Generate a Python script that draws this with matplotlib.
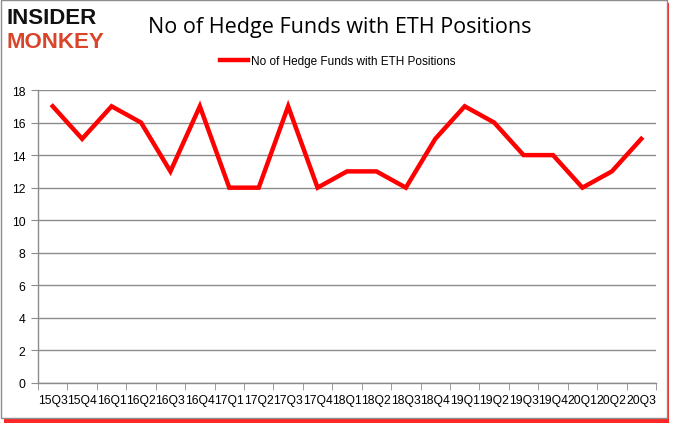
import matplotlib
matplotlib.use("Agg")
import matplotlib.pyplot as plt
from matplotlib.patches import Rectangle
import numpy as np

quarters = ["15Q3", "15Q4", "16Q1", "16Q2", "16Q3", "16Q4", "17Q1", "17Q2", "17Q3", "17Q4",
            "18Q1", "18Q2", "18Q3", "18Q4", "19Q1", "19Q2", "19Q3", "19Q4", "20Q1", "20Q2", "20Q3"]
funds = [17, 15, 17, 16, 13, 17, 12, 12, 17, 12, 13, 13, 12, 15, 17, 16, 14, 14, 12, 13, 15]
yticks = [0, 2, 4, 6, 8, 10, 12, 14, 16, 18]
title = "No of Hedge Funds with ETH Positions"

W, H = 677, 431
fig = plt.figure(figsize=(W / 100, H / 100), dpi=100)
fig.patch.set_facecolor("white")

# shadow + border
fig.patches.append(Rectangle((4 / W, 1 - 424 / H), 665 / W, 420 / H, transform=fig.transFigure,
                             facecolor="#ff0000", edgecolor="none", alpha=0.85, zorder=0))
fig.patches.append(Rectangle((1 / W, 1 - 419 / H), 666 / W, 418 / H, transform=fig.transFigure,
                             facecolor="white", edgecolor="#8c8c8c", linewidth=1, zorder=1))

ax = fig.add_axes([38 / W, 1 - 384 / H, (656 - 38) / W, (384 - 91) / H])
ax.set_zorder(2)
ax.patch.set_alpha(0)
x = np.arange(len(quarters))
ax.plot(x, funds, color="#ff0000", linewidth=3.2, solid_joinstyle="miter",
        label="No of Hedge Funds with ETH Positions", zorder=3)
ax.set_xlim(-0.5, len(quarters) - 0.5)
ax.set_ylim(0, 18)
ax.set_yticks(yticks)
ax.set_yticklabels([str(v) for v in yticks])
ax.yaxis.grid(True, color="#8c8c8c", linewidth=1)
ax.set_axisbelow(True)
ax.set_xticks(x)
ax.set_xticklabels(quarters)
ax.set_xticks(np.arange(-0.5, len(quarters), 1.0), minor=True)
ax.tick_params(axis="x", which="major", length=0, pad=8)
ax.tick_params(axis="x", which="minor", length=5, color="#8c8c8c", direction="out")
ax.tick_params(axis="y", length=5, color="#8c8c8c", direction="out", pad=4)
for lab in ax.get_xticklabels() + ax.get_yticklabels():
    lab.set_fontfamily("Liberation Sans")
    lab.set_fontsize(8.7)
    lab.set_color("#000000")
for s in ["top", "right"]:
    ax.spines[s].set_visible(False)
for s in ["left", "bottom"]:
    ax.spines[s].set_color("#8c8c8c")
    ax.spines[s].set_linewidth(1)

# title
fig.text(340 / W, 1 - 27 / H, title, ha="center", va="center", fontsize=15.5,
         fontfamily="Open Sans", color="#000000")

# legend
leg = fig.legend(loc="center", bbox_to_anchor=(338 / W, 1 - 62 / H), frameon=False,
                 prop={"family": "Liberation Sans", "size": 8.5}, handlelength=2.3, handletextpad=0.3)

# logo
fig.text(7 / W, 1 - 18 / H, "INSIDER", ha="left", va="center", fontsize=16, fontweight="bold",
         fontfamily="Liberation Sans", color="#111111")
fig.text(7 / W, 1 - 42 / H, "MONKEY", ha="left", va="center", fontsize=16, fontweight="bold",
         fontfamily="Liberation Sans", color="#d9442b")

fig.savefig("out.png", dpi=100)
